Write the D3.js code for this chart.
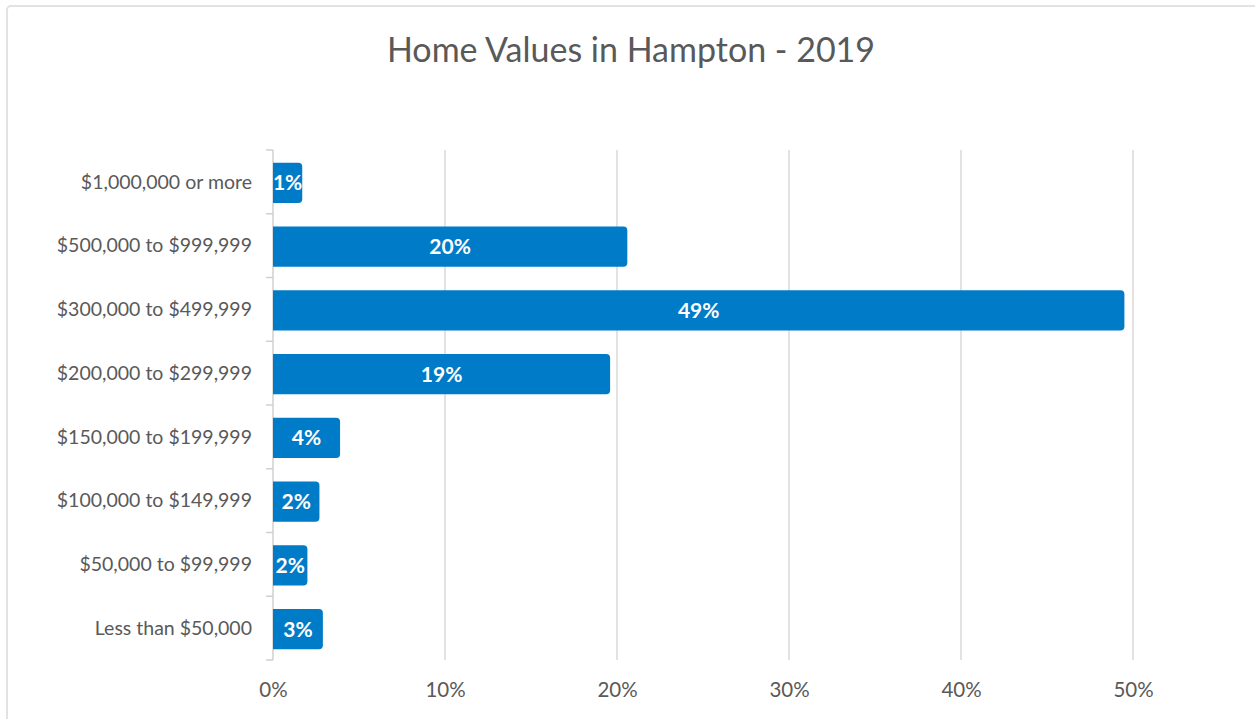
<!DOCTYPE html>
<html>
<head>
<meta charset="utf-8">
<title>Home Values in Hampton - 2019</title>
<script src="https://cdn.jsdelivr.net/npm/d3@7"></script>
<style>
  body { margin: 0; background: #fff; }
  svg { display: block; font-family: "Lato", "Open Sans", sans-serif; }
</style>
</head>
<body>
<svg width="1255" height="719"></svg>
<script>
// data
var categories = ["$1,000,000 or more", "$500,000 to $999,999", "$300,000 to $499,999",
  "$200,000 to $299,999", "$150,000 to $199,999", "$100,000 to $149,999",
  "$50,000 to $99,999", "Less than $50,000"];
var values = [1.7, 20.6, 49.5, 19.6, 3.9, 2.7, 2.0, 2.9];
var valueLabels = ["1%", "20%", "49%", "19%", "4%", "2%", "2%", "3%"];
var xTicks = [0, 10, 20, 30, 40, 50];

var svg = d3.select("svg");
var margin = {top: 150, left: 273, right: 100, bottom: 59};
var width = 1133 - margin.left;   // plot goes to the 50% line
var height = 660 - margin.top;

// chart frame
svg.append("rect")
  .attr("x", 7).attr("y", 6)
  .attr("width", 1270).attr("height", 730)
  .attr("rx", 4)
  .attr("fill", "none")
  .attr("stroke", "#e2e2e2")
  .attr("stroke-width", 2);

svg.append("text")
  .attr("x", 631).attr("y", 62)
  .attr("text-anchor", "middle")
  .attr("font-size", 34)
  .attr("fill", "#595959")
  .text("Home Values in Hampton - 2019");

var g = svg.append("g")
  .attr("transform", "translate(" + margin.left + "," + margin.top + ")");

var x = d3.scaleLinear().domain([0, 50]).range([0, width]);
var y = d3.scaleBand().domain(categories).range([0, height]).paddingInner(0.37).paddingOuter(0.185);

// gridlines
g.selectAll(".grid")
  .data(xTicks.slice(1))
  .enter().append("line")
  .attr("x1", function(d) { return x(d); })
  .attr("x2", function(d) { return x(d); })
  .attr("y1", 0).attr("y2", height)
  .attr("stroke", "#d9d9d9")
  .attr("stroke-width", 1.5);

// x axis labels
var xAxis = d3.axisBottom(x).tickValues(xTicks).tickSize(0).tickPadding(22)
  .tickFormat(function(d) { return d + "%"; });
var gx = g.append("g").attr("transform", "translate(0," + height + ")").call(xAxis);
gx.select(".domain").remove();
gx.selectAll("text").attr("font-size", 20.5).attr("fill", "#595959")
  .attr("font-family", "Lato, 'Open Sans', sans-serif");

// y axis with band boundary ticks
var gy = g.append("g");
gy.append("line")
  .attr("x1", 0).attr("x2", 0).attr("y1", 0).attr("y2", height)
  .attr("stroke", "#d0d0d0").attr("stroke-width", 1.5);
gy.selectAll(".tk")
  .data(d3.range(categories.length + 1))
  .enter().append("line")
  .attr("x1", -7).attr("x2", 0)
  .attr("y1", function(i) { return i * height / categories.length; })
  .attr("y2", function(i) { return i * height / categories.length; })
  .attr("stroke", "#d0d0d0").attr("stroke-width", 1.5);
gy.selectAll(".lbl")
  .data(categories)
  .enter().append("text")
  .attr("x", -21)
  .attr("y", function(d) { return y(d) + y.bandwidth() / 2; })
  .attr("dy", "0.35em")
  .attr("text-anchor", "end")
  .attr("font-size", 19.5)
  .attr("fill", "#595959")
  .text(function(d) { return d; });

// bars with rounded right end only
var r = 4;
function barPath(w, h) {
  var rr = Math.min(r, w / 2);
  return "M0,0H" + (w - rr) + "Q" + w + ",0 " + w + "," + rr +
    "V" + (h - rr) + "Q" + w + "," + h + " " + (w - rr) + "," + h + "H0Z";
}
var bars = g.selectAll(".bar")
  .data(values)
  .enter().append("g")
  .attr("transform", function(d, i) { return "translate(0," + (y(categories[i]) + 1) + ")"; });

bars.append("path")
  .attr("d", function(d) { return barPath(x(d), y.bandwidth()); })
  .attr("fill", "#007bc7");

bars.append("text")
  .attr("x", function(d) { return x(d) / 2; })
  .attr("y", y.bandwidth() / 2)
  .attr("dy", "0.36em")
  .attr("text-anchor", "middle")
  .attr("font-size", 21)
  .attr("font-weight", "bold")
  .attr("fill", "#fff")
  .text(function(d, i) { return valueLabels[i]; });
</script>
</body>
</html>
